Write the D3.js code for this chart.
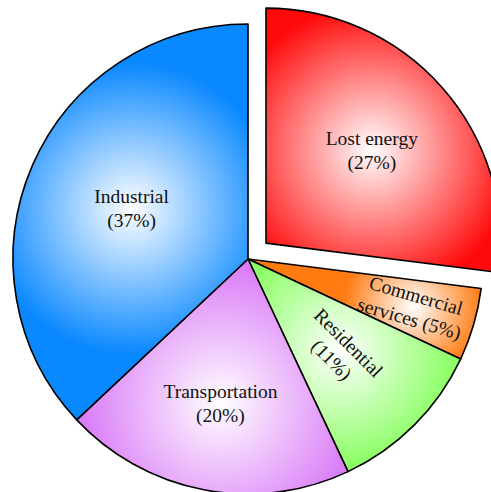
<!DOCTYPE html>
<html>
<head>
<meta charset="utf-8">
<script src="https://cdn.jsdelivr.net/npm/d3@7"></script>
<style>
  html, body { margin: 0; padding: 0; background: #fff; }
  svg { display: block; }
</style>
</head>
<body>
<svg id="chart" width="491" height="492"></svg>
<script>
// Energy use by sector, in percent, clockwise from 12 o'clock
const categories = ["Lost energy", "Commercial services", "Residential", "Transportation", "Industrial"];
const values = [27, 5, 11, 20, 37];
const colors = ["#ff0a0a", "#ff7a10", "#8cff66", "#d97af7", "#0a88ff"];
// Text lines for each slice; the percentage is appended from the values
const nameLines = [["Lost energy"], ["Commercial", "services"], ["Residential"], ["Transportation"], ["Industrial"]];
const percentOnOwnLine = [true, false, true, true, true];
const exploded = [true, false, false, false, false];
const rotatedLabel = [false, true, true, false, false];
const labelRadius = [0.6, 0.73, 0.555, 0.625, 0.54];
const glowRadius = [0.62, 0.3, 0.48, 0.6, 0.62];

const svg = d3.select("#chart");
const cx = 248, cy = 259, R = 235, explode = 24;

const pie = d3.pie().sort(null).value(d => d.value).startAngle(0).endAngle(2 * Math.PI);
const data = categories.map((c, i) => ({ i, name: c, value: values[i] }));
const arcs = pie(data);
const arc = d3.arc().innerRadius(0).outerRadius(R);

const defs = svg.append("defs");
const root = svg.append("g").attr("transform", `translate(${cx},${cy})`);

arcs.forEach(a => {
  const i = a.data.i;
  const mid = (a.startAngle + a.endAngle) / 2;
  const off = exploded[i] ? explode : 0;
  const ox = Math.sin(mid) * off, oy = -Math.cos(mid) * off;
  const lr = labelRadius[i] * R;
  const lx = Math.sin(mid) * lr, ly = -Math.cos(mid) * lr;

  const g = root.append("g").attr("transform", `translate(${ox},${oy})`);

  // white glow centred on the label, fading to the slice colour
  const grad = defs.append("radialGradient")
    .attr("id", "grad" + i)
    .attr("gradientUnits", "userSpaceOnUse")
    .attr("cx", lx).attr("cy", ly)
    .attr("fx", lx).attr("fy", ly)
    .attr("r", R * glowRadius[i]);
  grad.append("stop").attr("offset", 0).attr("stop-color", "#ffffff");
  grad.append("stop").attr("offset", 1).attr("stop-color", colors[i]);

  g.append("path")
    .attr("d", arc(a))
    .attr("fill", `url(#grad${i})`)
    .attr("stroke", "#000")
    .attr("stroke-width", 1.6)
    .attr("stroke-linejoin", "round");

  const pct = `(${a.data.value}%)`;
  const lines = nameLines[i].slice();
  if (percentOnOwnLine[i]) lines.push(pct);
  else lines[lines.length - 1] += " " + pct;

  const rot = rotatedLabel[i] ? (mid * 180 / Math.PI - 90) : 0;
  const lh = 24;
  const t = g.append("text")
    .attr("transform", `translate(${lx},${ly}) rotate(${rot})`)
    .attr("text-anchor", "middle")
    .attr("font-family", "'Liberation Serif', 'Times New Roman', serif")
    .attr("font-size", 19.5)
    .attr("fill", "#111");
  lines.forEach((s, k) => {
    t.append("tspan")
      .attr("x", 0)
      .attr("y", (k - (lines.length - 1) / 2) * lh)
      .attr("dy", "0.35em")
      .text(s);
  });
});
</script>
</body>
</html>
